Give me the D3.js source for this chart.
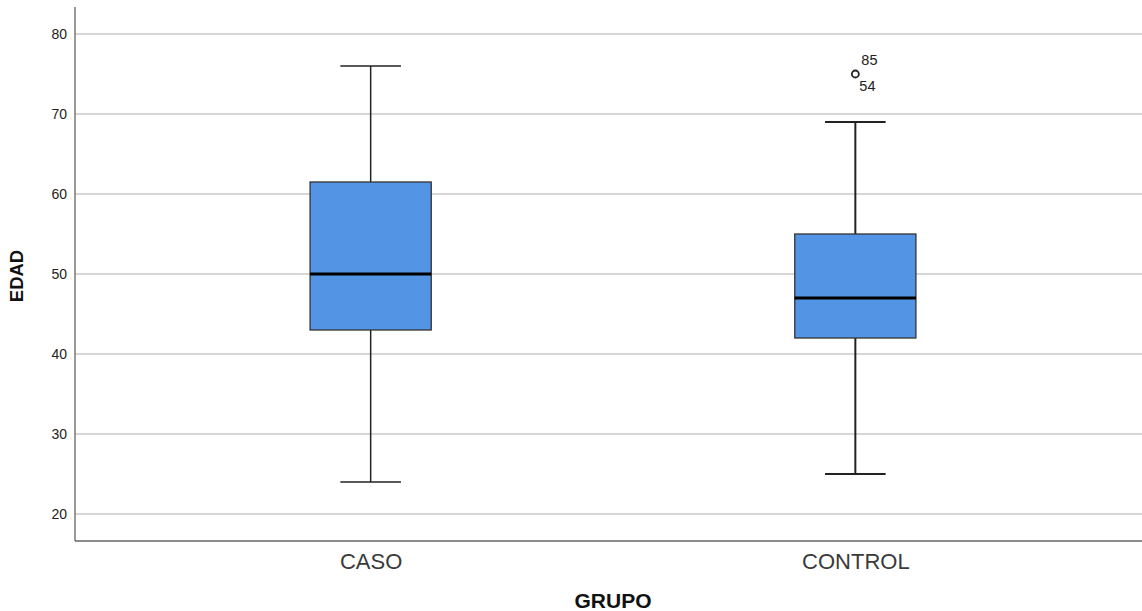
<!DOCTYPE html>
<html><head><meta charset="utf-8">
<script src="https://cdn.jsdelivr.net/npm/d3@7"></script>
<style>body{margin:0;background:#fff;}svg{display:block;font-family:"Liberation Sans",Arial,sans-serif;}</style>
</head><body>
<svg id="c" width="1142" height="611"></svg>
<script>
const categories = ["CASO", "CONTROL"];
const whiskerLow = [24, 25];
const q1 = [43, 42];
const median = [50, 47];
const q3 = [61.5, 55];
const whiskerHigh = [76, 69];
const outlierValues = [[], [75]];
const outlierLabels = [[], [["85", "54"]]];
const yTicks = [20, 30, 40, 50, 60, 70, 80];

(function () {
const svg = d3.select("#c");
const W = 1142, H = 611;
const mLeft = 75, mTop = 7, mBottom = 541;
const y = d3.scaleLinear().domain([16.625, 83.375]).range([mBottom, mTop]);
const x = d3.scalePoint().domain(categories).range([75, 1151]).padding(0.61);
const bw = x.step() * 0.25;

svg.append("g").selectAll("line").data(yTicks).join("line")
  .attr("x1", mLeft).attr("x2", W).attr("y1", d => y(d)).attr("y2", d => y(d))
  .attr("stroke", "#c8c8c8").attr("stroke-width", 1.5);

const ya = svg.append("g").attr("transform", `translate(${mLeft},0)`)
  .call(d3.axisLeft(y).tickValues(yTicks).tickSize(0).tickPadding(8));
ya.select(".domain").remove();
ya.selectAll("text").attr("font-size", 14).attr("fill", "#222").attr("font-family", "Liberation Sans, Arial, sans-serif");

const xa = svg.append("g").attr("transform", `translate(0,${mBottom})`)
  .call(d3.axisBottom(x).tickSize(0).tickPadding(12));
xa.select(".domain").remove();
xa.selectAll("text").attr("font-size", 22).attr("fill", "#3a3a3a").attr("font-family", "Liberation Sans, Arial, sans-serif");

svg.append("line").attr("x1", mLeft).attr("x2", mLeft).attr("y1", mTop).attr("y2", mBottom)
  .attr("stroke", "#777").attr("stroke-width", 1.5);
svg.append("line").attr("x1", mLeft).attr("x2", W).attr("y1", mBottom).attr("y2", mBottom)
  .attr("stroke", "#666").attr("stroke-width", 1.5);

const g = svg.append("g");
categories.forEach((c, i) => {
  const cx = x(c);
  const sw = i === 0 ? 1.5 : 2;
  g.append("line").attr("x1", cx).attr("x2", cx).attr("y1", y(q3[i])).attr("y2", y(whiskerHigh[i])).attr("stroke", "#222").attr("stroke-width", sw);
  g.append("line").attr("x1", cx).attr("x2", cx).attr("y1", y(q1[i])).attr("y2", y(whiskerLow[i])).attr("stroke", "#222").attr("stroke-width", sw);
  [whiskerHigh[i], whiskerLow[i]].forEach(v => {
    g.append("line").attr("x1", cx - bw / 4).attr("x2", cx + bw / 4).attr("y1", y(v)).attr("y2", y(v)).attr("stroke", "#222").attr("stroke-width", sw);
  });
  g.append("rect").attr("x", cx - bw / 2).attr("width", bw)
    .attr("y", y(q3[i])).attr("height", y(q1[i]) - y(q3[i]))
    .attr("fill", "#5494e5").attr("stroke", "#333").attr("stroke-width", 1.3);
  g.append("line").attr("x1", cx - bw / 2).attr("x2", cx + bw / 2).attr("y1", y(median[i])).attr("y2", y(median[i]))
    .attr("stroke", "#000").attr("stroke-width", 3);
  outlierValues[i].forEach((v, k) => {
    g.append("circle").attr("cx", cx).attr("cy", y(v)).attr("r", 3.5).attr("fill", "none").attr("stroke", "#222").attr("stroke-width", 1.8);
    const labs = outlierLabels[i][k];
    g.append("text").attr("x", cx + 6).attr("y", y(v) - 9).attr("font-size", 14.5).attr("fill", "#222").text(labs[0]);
    g.append("text").attr("x", cx + 4).attr("y", y(v) + 17).attr("font-size", 14.5).attr("fill", "#222").text(labs[1]);
  });
});

svg.append("text").attr("transform", `translate(23,${(mTop + mBottom) / 2 + 2}) rotate(-90)`)
  .attr("text-anchor", "middle").attr("font-size", 18.5).attr("font-weight", "bold").attr("fill", "#111").text("EDAD");
svg.append("text").attr("x", 613).attr("y", 608).attr("text-anchor", "middle")
  .attr("font-size", 21).attr("font-weight", "bold").attr("fill", "#111").text("GRUPO");
})();
</script>
</body></html>
